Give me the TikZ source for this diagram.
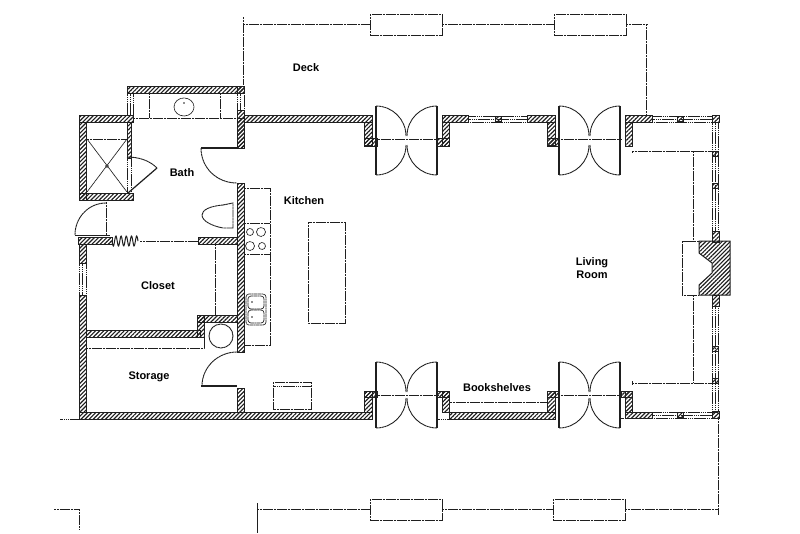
\documentclass[tikz,border=0pt]{standalone}
\usepackage{fontspec}
\setmainfont{Liberation Sans}
\usetikzlibrary{patterns.meta}
\definecolor{ink}{gray}{0.12}
\tikzset{
  x=1pt,y=-1pt,
  ln/.style={draw=ink,line width=.9pt,dash pattern=on 2.4pt off .4pt},
  fine/.style={draw=ink,line width=.7pt,dash pattern=on 1.5pt off .4pt},
  solidln/.style={draw=ink,line width=1.2pt},
  wallbox/.style={draw=ink,line width=1pt,pattern={Lines[angle=45,distance=2.9pt,line width=1.15pt]},pattern color=ink},
  roomlabel/.style={font=\bfseries\fontsize{11}{12.5}\selectfont,text=black,align=center,inner sep=0pt},
}
\newcommand\wallrect[4]{\path[wallbox] (#1,#2) rectangle (#3,#4);}
\newcommand\winh[3]{% x1 x2 y top
  \draw[fine] (#1,#3) rectangle (#2,#3+6);
  \draw[fine] (#1,#3+3) -- (#2,#3+3);}
\newcommand\winv[3]{% y1 y2 x left
  \draw[fine] (#3,#1) rectangle (#3+6,#2);
  \draw[fine] (#3+3,#1) -- (#3+3,#2);}
\newcommand\mull[2]{\path[wallbox] (#1,#2) rectangle +(6,5);}
\newcommand\doorpair[3]{% left jamb x, top centre y, bottom centre y
  \draw[solidln] (#1,#2-30) -- (#1,#3+30);
  \draw[solidln] (#1+61,#2-30) -- (#1+61,#3+30);
  \draw[ln] (#1,#2-30) .. controls (#1+16.5,#2-30) and (#1+30,#2-16.5) .. (#1+30,#2);
  \draw[ln] (#1+61,#2-30) .. controls (#1+44.5,#2-30) and (#1+31,#2-16.5) .. (#1+31,#2);
  \draw[ln] (#1,#3+30) .. controls (#1+16.5,#3+30) and (#1+30,#3+16.5) .. (#1+30,#3);
  \draw[ln] (#1+61,#3+30) .. controls (#1+44.5,#3+30) and (#1+31,#3+16.5) .. (#1+31,#3);
  \draw[ln] (#1-1,#2+3) -- (#1+63,#2+3);}
\begin{document}
\begin{tikzpicture}
\useasboundingbox[fill=white] (0,0) rectangle (800,533);

% ---- deck rails
\draw[ln] (243,17) -- (243,85);
\draw[ln] (243,24) -- (370,24);
\draw[ln] (370,14) rectangle (442,35);
\draw[ln] (442,24) -- (554,24);
\draw[ln] (554,14) rectangle (626,35);
\draw[ln] (626,24) -- (648,24);
\draw[ln] (646,24) -- (646,115);
\draw[ln] (54,509) -- (79,509);
\draw[ln] (79,509) -- (79,530);
\draw[draw=ink,line width=.8pt] (257,503) -- (257,533);
\draw[ln] (257,509) -- (370,509);
\draw[ln] (370,499) rectangle (442,520);
\draw[ln] (442,509) -- (553,509);
\draw[ln] (553,499) rectangle (625,520);
\draw[ln] (625,509) -- (719,509);
\draw[ln] (718,418) -- (718,515);
\draw[fine] (60,419) -- (79,419);

% ---- outer walls, top
\wallrect{127}{86}{244}{93}
\wallrect{237}{110}{244}{148}
\wallrect{237}{86}{244}{93}
\draw[fine] (237,93) rectangle (244,110);
\draw[fine] (240.5,93) -- (240.5,110);
\draw[fine] (127,93) rectangle (133,115);
\draw[fine] (130,93) -- (130,115);
\wallrect{244}{115}{372}{122}
\wallrect{364}{122}{372}{145}
\wallrect{364}{138}{377}{146}
\wallrect{442}{115}{468}{122}
\wallrect{442}{122}{449}{146}
\wallrect{437}{138}{449}{146}
\winh{468}{527}{116}
\mull{495}{116}
\wallrect{527}{115}{555}{122}
\wallrect{547}{122}{555}{145}
\wallrect{547}{138}{559}{146}
\wallrect{625}{115}{652}{122}
\wallrect{625}{122}{632}{146}
\winh{652}{712}{116}
\mull{677}{116}
\wallrect{712}{115}{719}{122}

% ---- right side
\winv{122}{231}{712}
\mull{712}{151}
\mull{712}{183}
\wallrect{712}{231}{719}{242}
\wallrect{712}{295}{719}{306}
\winv{306}{412}{712}
\mull{712}{346}
\mull{712}{378}
\wallrect{712}{411}{719}{418}
\draw[ln] (632,151) -- (712,151);
\draw[ln] (632,151) -- (632,153);
\draw[ln] (693,151) -- (693,241);
\draw[ln] (693,295) -- (693,383);
\draw[ln] (632,383) -- (712,383);
\draw[ln] (632,381) -- (632,385);

% ---- fireplace
\draw[ln] (699,241) -- (682,241) -- (682,295) -- (699,295);
\path[wallbox] (699,241) -- (730,241) -- (730,295) -- (699,295) -- (699,285) -- (712,273) -- (712,263) -- (699,253) -- cycle;

% ---- bottom walls
\wallrect{79}{412}{372}{419}
\wallrect{364}{391}{372}{412}
\wallrect{364}{391}{377}{397}
\wallrect{442}{391}{449}{412}
\wallrect{437}{391}{449}{397}
\wallrect{449}{412}{555}{419}
\wallrect{547}{391}{555}{412}
\wallrect{547}{391}{559}{397}
\wallrect{625}{391}{632}{412}
\wallrect{621}{391}{632}{397}
\wallrect{625}{412}{652}{418}
\winh{652}{712}{412}
\mull{677}{412}
\draw[ln] (450,402) -- (547,402);
\draw[fine] (437,419) -- (449,419);
\draw[fine] (621,418) -- (625,418);

% ---- doors
\doorpair{376}{136}{145}
\doorpair{559}{136}{145}
\doorpair{376}{392}{398}
\doorpair{559}{392}{398}

% ---- shower
\wallrect{79}{115}{133}{122}
\wallrect{79}{122}{86}{200}
\wallrect{79}{193}{133}{200}
\wallrect{127}{122}{131}{158}
\draw[fine] (127,158) rectangle (131,193);
\draw[ln] (87,139) -- (127,139);
\draw[fine] (87,139) -- (127,192);
\draw[fine] (127,139) -- (87,192);
\draw[fine] (107,166) circle[radius=1.5];
\draw[solidln] (128,193) -- (157,168);
\draw[ln] (157,168) .. controls (149,160) and (138,157) .. (127,157);

% ---- bath and closet walls
\wallrect{78}{237}{112}{244}
\wallrect{198}{237}{237}{244}
\wallrect{79}{244}{86}{263}
\draw[fine] (79,263) rectangle (86,295);
\draw[fine] (82.5,263) -- (82.5,295);
\wallrect{79}{295}{86}{412}
\wallrect{237}{118}{244}{148}
\wallrect{237}{183}{244}{352}
\wallrect{237}{388}{244}{412}
\wallrect{86}{330}{200}{337}
\wallrect{197}{315}{204}{337}
\wallrect{197}{315}{237}{322}
\draw[ln] (86,348) -- (204,348) -- (204,322);
\draw[ln] (215,244) -- (215,315);
\draw[ln] (140,241) -- (198,241);
\draw[draw=ink,line width=1pt,smooth,samples=60,domain=0:26] plot ({112+\x},{241+5*sin(\x*360/5.2)});

% ---- entry door
\draw[ln] (106,202) -- (106,235);
\draw[draw=ink,line width=1pt] (75,235) -- (110,235);
\draw[ln] (106,203) .. controls (89,203) and (75,217) .. (75,235);

% ---- bath door
\draw[solidln] (201,148) -- (237,148);
\draw[ln] (201,148) .. controls (201,168) and (217,183) .. (237,183);

% ---- storage door
\draw[solidln] (201,386) -- (237,386);
\draw[ln] (237,352) .. controls (218,352) and (202,367) .. (202,386);

% ---- vanity
\draw[ln] (133,118) -- (237,118);
\draw[ln] (149,93) -- (149,118);
\draw[ln] (220,93) -- (220,118);
\draw[fine] (184,107) ellipse[x radius=10,y radius=9];
\fill[ink] (184,103) circle[radius=.8];

% ---- toilet
\draw[ln] (223,205) -- (233,203) -- (233,228) -- (223,228);
\draw[ln] (223,205) .. controls (210,206) and (202,210) .. (202,215) .. controls (202,221) and (212,226) .. (223,228);

% ---- water heater
\draw[ln] (221,336) circle[radius=12];

% ---- kitchen
\draw[ln] (244,188) -- (270,188) -- (270,345) -- (244,345);
\draw[ln] (244,223) -- (270,223);
\draw[ln] (244,254) -- (270,254);
\draw[fine] (250,232) circle[radius=3.5];
\draw[fine] (261,232) circle[radius=4.5];
\draw[fine] (250,246) circle[radius=4.5];
\draw[fine] (262,246) circle[radius=3.5];
\draw[fine,rounded corners=3pt] (246,294) rectangle (266,325);
\draw[fine,rounded corners=3pt] (248,296) rectangle (264,309);
\draw[fine,rounded corners=3pt] (248,310) rectangle (264,323);
\fill[ink] (252,302) circle[radius=.9];
\fill[ink] (252,317) circle[radius=.9];
\draw[ln] (308,222) rectangle (345,323);
\draw[ln] (273,382) rectangle (311,409);
\draw[fine] (273,386) -- (311,386);

% ---- labels
\node[roomlabel] (deck) at (306,68) {Deck};
\node[roomlabel] (bath) at (182,173) {Bath};
\node[roomlabel] (kitchen) at (304,201) {Kitchen};
\node[roomlabel] (living) at (592,268) {Living\\Room};
\node[roomlabel] (closet) at (158,286) {Closet};
\node[roomlabel] (storage) at (149,377) {Storage};
\node[roomlabel] (shelves) at (497,388) {Bookshelves};
\end{tikzpicture}
\end{document}
